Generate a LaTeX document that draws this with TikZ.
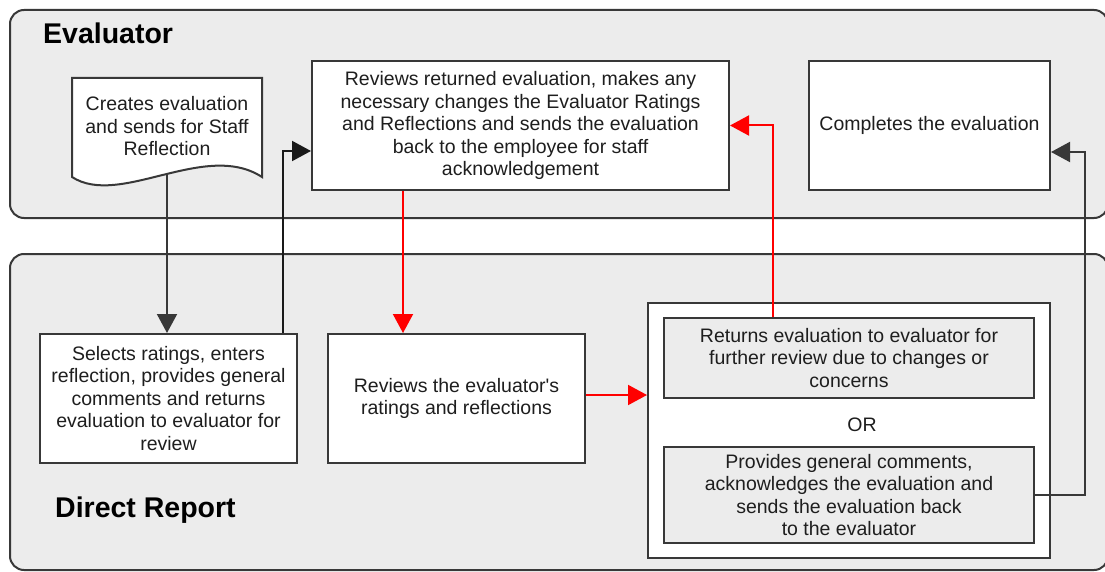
\documentclass[tikz,border=0pt]{standalone}
\usepackage{fontspec}
\setmainfont[Ligatures=TeXOff]{Liberation Sans}
\usetikzlibrary{arrows.meta}
\definecolor{lanefill}{HTML}{ECECEC}
\definecolor{edgec}{HTML}{383838}
\definecolor{txt}{HTML}{1E1E1E}
\definecolor{redline}{HTML}{FF0000}
\begin{document}
\begin{tikzpicture}[x=1pt,y=-1pt,
  lane/.style={draw=edgec,line width=2pt,fill=lanefill,rounded corners=14pt},
  box/.style={draw=edgec,line width=2pt,fill=white,inner sep=0pt,align=center,text=txt,
    font=\fontsize{19.5}{22.5}\selectfont},
  graybox/.style={box,fill=lanefill},
  plain/.style={inner sep=0pt,align=center,text=txt,font=\fontsize{19.5}{22.5}\selectfont},
  title/.style={inner sep=0pt,anchor=west,text=black,font=\bfseries\fontsize{28.5}{32}\selectfont},
  darkarrow/.style={draw=edgec,line width=2pt,-{Triangle[length=19pt,width=20pt]}},
  blackarrow/.style={draw=black!90,line width=2pt,-{Triangle[length=19pt,width=20pt]}},
  redarrow/.style={draw=redline,line width=2pt,-{Triangle[length=19pt,width=20pt]}}]
\useasboundingbox (0,0) rectangle (1105,572);
\fill[white] (0,0) rectangle (1105,572);

% lanes
\draw[lane] (10,10) rectangle (1108,218);
\draw[lane] (10,254) rectangle (1108,570);
\node[title] (evt) at (43,33) {Evaluator};
\node[title] (drt) at (55,510) {Direct Report};

% document shape
\draw[draw=edgec,line width=2pt,fill=white]
  (72,177) -- (72,78) -- (262,78) -- (262,177)
  .. controls (205,140) and (120,208) .. (72,177) -- cycle;
\node[plain] (doc) at (167,126.5) {Creates evaluation\\and sends for Staff\\Reflection};
\coordinate (docb) at (167,175);

% evaluator boxes
\node[box,minimum width=417pt,minimum height=129pt] (boxA) at (520.5,125.5)
  {Reviews returned evaluation, makes any\\necessary changes the Evaluator Ratings\\and Reflections and sends the evaluation\\back to the employee for staff\\acknowledgement};
\node[box,minimum width=241pt,minimum height=129pt] (comp) at (929.5,125.5)
  {Completes the evaluation};

% direct report boxes
\node[box,minimum width=257pt,minimum height=129pt] (sel) at (168.5,398.5)
  {Selects ratings, enters\\reflection, provides general\\comments and returns\\evaluation to evaluator for\\review};
\node[box,minimum width=257pt,minimum height=129pt] (rev) at (456.5,398.5)
  {Reviews the evaluator's\\ratings and reflections};
\node[box,minimum width=402pt,minimum height=255pt] (outer) at (849,430.5) {};
\node[graybox,minimum width=370pt,minimum height=80pt] (ib1) at (849,358)
  {Returns evaluation to evaluator for\\further review due to changes or\\concerns};
\node[plain] (or) at (862,425) {OR};
\node[graybox,minimum width=370pt,minimum height=96pt] (ib2) at (849,495)
  {Provides general comments,\\acknowledges the evaluation and\\sends the evaluation back\\to the evaluator};

% connectors
\coordinate (c2) at (283,151);
\coordinate (c3) at (403,0);
\coordinate (c5) at (773,0);
\coordinate (c6a) at (1085,495);
\coordinate (c6b) at (1085,152);

\draw[darkarrow] (docb) -- (docb |- sel.north);
\draw[blackarrow] (sel.north -| c2) |- (boxA.west |- c2);
\draw[redarrow] (boxA.south -| c3) -- (rev.north -| c3);
\draw[redarrow] (rev.east |- 0,395) -- (outer.west |- 0,395);
\draw[redarrow] (ib1.north -| c5) |- (boxA.east);
\draw[darkarrow] (ib2.east) -- (c6a) -- (c6b) -- (comp.east |- c6b);
\end{tikzpicture}
\end{document}
